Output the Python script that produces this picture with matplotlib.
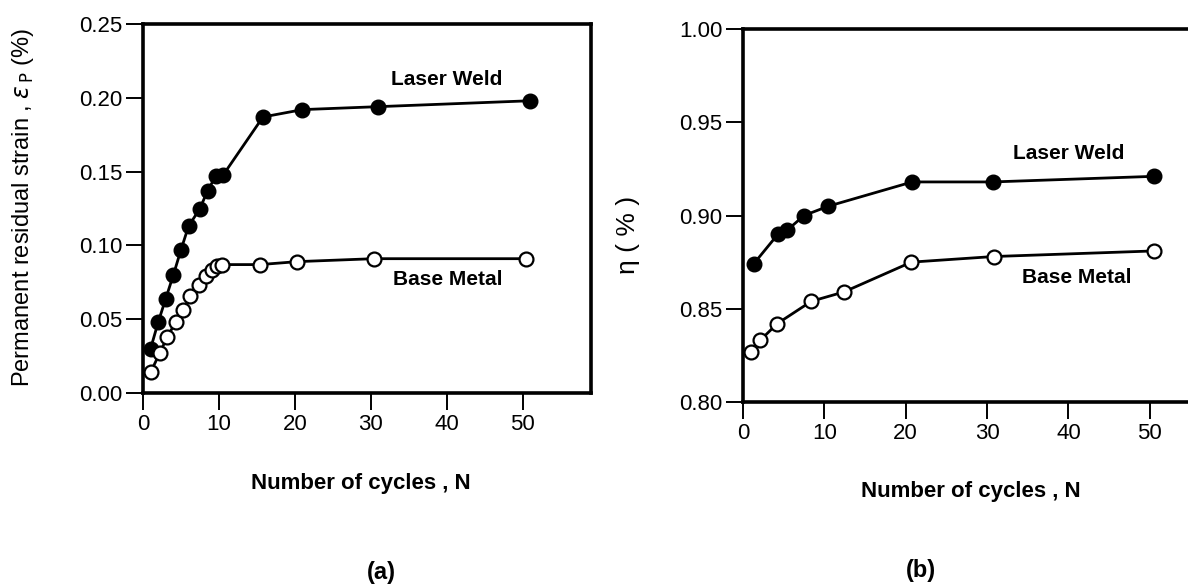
import matplotlib
matplotlib.use("Agg")
import matplotlib.pyplot as plt

plt.rcParams["font.family"] = ["Liberation Sans", "DejaVu Sans"]
plt.rcParams["mathtext.fontset"] = "dejavusans"

# (a) permanent residual strain vs cycles
cyc_a_weld = [1, 2, 3, 4, 5, 6, 7.5, 8.5, 9.6, 10.6, 15.8, 21, 31, 51]
eps_weld = [0.030, 0.048, 0.064, 0.080, 0.097, 0.113, 0.125, 0.137, 0.147, 0.148,
            0.187, 0.192, 0.194, 0.198]
cyc_a_base = [1, 2.2, 3.2, 4.3, 5.3, 6.2, 7.4, 8.3, 9.1, 9.8, 10.4, 15.4, 20.3, 30.4, 50.4]
eps_base = [0.014, 0.027, 0.038, 0.048, 0.056, 0.066, 0.073, 0.079, 0.083, 0.086,
            0.087, 0.087, 0.089, 0.091, 0.091]

# (b) eta vs cycles
cyc_b_weld = [1.3, 4.3, 5.4, 7.5, 10.5, 20.8, 30.7, 50.5]
eta_weld = [0.874, 0.890, 0.892, 0.900, 0.905, 0.918, 0.918, 0.921]
cyc_b_base = [1, 2.1, 4.2, 8.4, 12.4, 20.7, 30.8, 50.5]
eta_base = [0.827, 0.833, 0.842, 0.854, 0.859, 0.875, 0.878, 0.881]

xticks = [0, 10, 20, 30, 40, 50]
yticks_a = [0.00, 0.05, 0.10, 0.15, 0.20, 0.25]
yticks_b = [0.80, 0.85, 0.90, 0.95, 1.00]

W, H = 1188, 588
fig = plt.figure(figsize=(W / 100, H / 100), dpi=100)


def px_axes(left, top, right, bottom):
    return fig.add_axes([left / W, 1 - bottom / H, (right - left) / W, (bottom - top) / H])


def style(ax):
    for s in ax.spines.values():
        s.set_linewidth(2.6)
    ax.tick_params(direction="out", length=12, width=1.4, labelsize=16, pad=3)
    ax.set_xticks(xticks)
    ax.set_xticklabels([str(t) for t in xticks])


def draw(ax, xw, yw, xb, yb):
    ax.plot(xw, yw, "-o", color="black", lw=2, ms=10.5, mfc="black", mec="black", zorder=3)
    ax.plot(xb, yb, "-o", color="black", lw=2, ms=10, mfc="white", mec="black",
            mew=1.6, zorder=3)


# panel (a)
ax1 = px_axes(143, 24, 591, 393)
draw(ax1, cyc_a_weld, eps_weld, cyc_a_base, eps_base)
ax1.set_xlim(0, 59)
ax1.set_ylim(0, 0.25)
style(ax1)
ax1.set_yticks(yticks_a)
ax1.set_yticklabels([f"{t:.2f}" for t in yticks_a])
ax1.text(40, 0.2125, "Laser Weld", ha="center", va="center", fontsize=15, fontweight="bold")
ax1.text(40.2, 0.0767, "Base Metal", ha="center", va="center", fontsize=15, fontweight="bold")
ax1.set_xlabel("Number of cycles , N", fontsize=16, fontweight="bold", va="center")
ax1.xaxis.set_label_coords(0.487, -0.244)
ax1.set_ylabel(r"Permanent residual strain , $\varepsilon_{\,\mathrm{P}}$ (%)", fontsize=17,
               va="center")
ax1.yaxis.set_label_coords(-0.268, 0.504)

# panel (b)
ax2 = px_axes(743, 29, 1223, 402)
draw(ax2, cyc_b_weld, eta_weld, cyc_b_base, eta_base)
ax2.set_xlim(0, 59)
ax2.set_ylim(0.80, 1.00)
style(ax2)
ax2.set_yticks(yticks_b)
ax2.set_yticklabels([f"{t:.2f}" for t in yticks_b])
ax2.text(40, 0.9335, "Laser Weld", ha="center", va="center", fontsize=15, fontweight="bold")
ax2.text(41, 0.8665, "Base Metal", ha="center", va="center", fontsize=15, fontweight="bold")
ax2.set_xlabel("Number of cycles , N", fontsize=16, fontweight="bold", va="center")
ax2.xaxis.set_label_coords(0.475, -0.239)
ax2.set_ylabel("η ( % )", fontsize=19, va="center")
ax2.yaxis.set_label_coords(-0.240, 0.448)

fig.text(381 / W, 1 - 572 / H, "(a)", ha="center", va="center", fontsize=17, fontweight="bold")
fig.text(921 / W, 1 - 571 / H, "(b)", ha="center", va="center", fontsize=17, fontweight="bold")

fig.savefig("out.png", dpi=100)
